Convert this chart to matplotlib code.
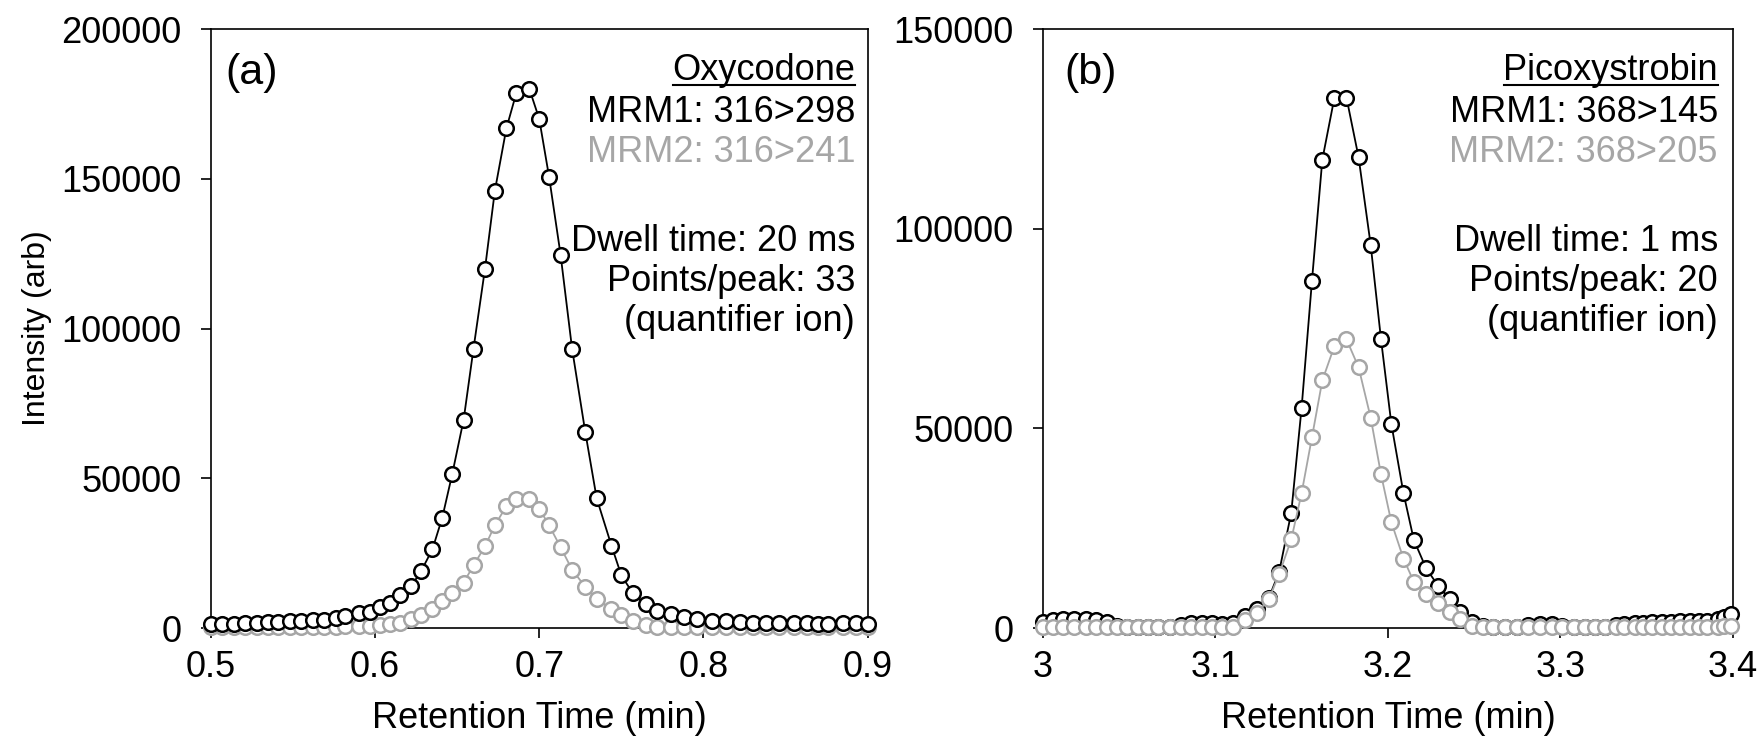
import matplotlib
matplotlib.use("Agg")
import matplotlib.pyplot as plt
from matplotlib.lines import Line2D
from matplotlib.ticker import FuncFormatter, MultipleLocator
from matplotlib.transforms import IdentityTransform

plt.rcParams['font.family'] = ['Liberation Sans', 'DejaVu Sans']

# panel (a) oxycodone
tiempo_a = [0.500, 0.507, 0.514, 0.521, 0.528, 0.535, 0.541, 0.548, 0.555, 0.562,
            0.569, 0.576, 0.582, 0.590, 0.597, 0.603, 0.609, 0.615, 0.622, 0.628,
            0.635, 0.641, 0.647, 0.654, 0.660, 0.667, 0.673, 0.680, 0.686, 0.694,
            0.700, 0.706, 0.713, 0.720, 0.728, 0.735, 0.744, 0.750, 0.757, 0.765,
            0.772, 0.780, 0.788, 0.796, 0.805, 0.814, 0.822, 0.830, 0.838, 0.846,
            0.855, 0.863, 0.870, 0.876, 0.885, 0.893, 0.900]
mrm1_a = [1500, 1500, 1500, 1600, 1700, 1900, 2000, 2200, 2400, 2600,
          2800, 3500, 4000, 4900, 5400, 6900, 8300, 10900, 13900, 18900,
          26300, 36900, 51300, 69600, 93300, 120000, 146000, 166800, 178500, 180000,
          170000, 150700, 124700, 93300, 65600, 43300, 27500, 17600, 11600, 7900,
          5600, 4700, 3600, 2900, 2300, 2300, 2000, 1600, 1600, 1600,
          1600, 1600, 1200, 1200, 1600, 1600, 1300]
mrm2_a = [300, 300, 300, 300, 300, 350, 350, 400, 400, 450,
          450, 500, 550, 600, 700, 900, 1300, 1800, 2900, 4300,
          6500, 8900, 11600, 15200, 20900, 27300, 34300, 40700, 43200, 43200,
          39900, 34300, 27000, 19500, 13800, 9600, 6500, 4300, 2300, 900,
          400, 300, 300, 300, 300, 300, 300, 300, 300, 300,
          300, 300, 300, 300, 300, 300, 300]

# panel (b) picoxystrobin
tiempo_b = [3.000, 3.006, 3.012, 3.018, 3.025, 3.031, 3.037, 3.043, 3.049, 3.055,
            3.061, 3.067, 3.074, 3.080, 3.086, 3.092, 3.098, 3.104, 3.110,
            3.117, 3.124, 3.131, 3.137, 3.144, 3.150, 3.156, 3.162, 3.169, 3.176,
            3.183, 3.190, 3.196, 3.202, 3.209, 3.215, 3.222, 3.229, 3.236, 3.242, 3.249,
            3.255, 3.261, 3.268, 3.275, 3.281, 3.288, 3.295, 3.301, 3.308, 3.314,
            3.320, 3.326, 3.332, 3.337, 3.343, 3.348, 3.353, 3.359, 3.364, 3.369,
            3.375, 3.380, 3.385, 3.391, 3.395, 3.399]
mrm1_b = [1500, 2000, 2200, 2200, 2200, 2000, 1500, 600, 300, 200,
          200, 200, 300, 800, 1200, 1300, 1200, 1000, 1200,
          3000, 4700, 7500, 14100, 28900, 55200, 87000, 117300, 132800, 132800,
          117900, 96000, 72300, 51100, 33800, 22100, 15100, 10600, 7200, 4000, 1500,
          500, 300, 300, 300, 800, 1000, 900, 500, 300, 300,
          300, 300, 700, 1000, 1200, 1300, 1400, 1500, 1600, 1700,
          1800, 1700, 1800, 2200, 2800, 3500]
mrm2_b = [300, 300, 300, 300, 300, 300, 300, 300, 300, 300,
          300, 300, 300, 300, 300, 300, 300, 300, 300,
          2000, 3700, 7200, 13500, 22200, 33800, 47800, 62000, 70600, 72300,
          65300, 52700, 38500, 26500, 17400, 11600, 8500, 6200, 4000, 2200, 500,
          300, 300, 300, 300, 300, 300, 300, 300, 300, 300,
          300, 300, 300, 300, 300, 300, 300, 300, 300, 300,
          300, 300, 300, 300, 400, 600]

gris = '#A6A6A6'
tam = 26

fig = plt.figure(figsize=(17.65, 7.42), dpi=100)
ax_a = fig.add_axes([0.1194, 0.1536, 0.3722, 0.8073])
ax_b = fig.add_axes([0.5908, 0.1536, 0.3911, 0.8073])


def dibujar(ax, t, s1, s2, gris_encima):
    estilo = dict(marker='o', markersize=10.5, markerfacecolor='white',
                  markeredgewidth=1.8, linewidth=1.3, clip_on=False)
    z1, z2 = (3, 4) if gris_encima else (4, 3)
    ax.plot(t, s1, color='black', markeredgecolor='black', zorder=z1, **estilo)
    ax.plot(t, s2, color=gris, markeredgecolor=gris, zorder=z2, **estilo)
    for sp in ax.spines.values():
        sp.set_linewidth(1.2)
    ax.tick_params(direction='out', length=7, width=1.2, labelsize=tam)
    ax.tick_params(axis='x', pad=9)
    ax.tick_params(axis='y', pad=14)
    ax.yaxis.set_major_formatter(FuncFormatter(lambda v, p: f"{v:.0f}"))
    ax.xaxis.set_major_formatter(FuncFormatter(lambda v, p: f"{v:g}"))
    ax.set_xlabel("Retention Time (min)", fontsize=tam, labelpad=11)


dibujar(ax_a, tiempo_a, mrm1_a, mrm2_a, False)
ax_a.set_xlim(0.5, 0.9)
ax_a.set_ylim(0, 200000)
ax_a.xaxis.set_major_locator(MultipleLocator(0.1))
ax_a.yaxis.set_major_locator(MultipleLocator(50000))
ax_a.set_ylabel("Intensity (arb)", fontsize=23, labelpad=7)

dibujar(ax_b, tiempo_b, mrm1_b, mrm2_b, True)
ax_b.set_xlim(3.0, 3.4)
ax_b.set_ylim(0, 150000)
ax_b.xaxis.set_major_locator(MultipleLocator(0.1))
ax_b.yaxis.set_major_locator(MultipleLocator(50000))

paneles = [
    (ax_a, "(a)", 0.022, 0.981, "Oxycodone", "MRM1: 316>298", "MRM2: 316>241",
     "Dwell time: 20 ms", "Points/peak: 33"),
    (ax_b, "(b)", 0.031, 0.978, "Picoxystrobin", "MRM1: 368>145", "MRM2: 368>205",
     "Dwell time: 1 ms", "Points/peak: 20"),
]
renglones = [0.915, 0.845, 0.778, 0.629, 0.563, 0.496]

titulos = []
for ax, letra, xl, xr, nombre, m1, m2, dwell, puntos in paneles:
    ax.text(xl, 0.908, letra, transform=ax.transAxes, fontsize=31,
            ha='left', va='baseline')
    t = ax.text(xr, renglones[0], nombre, transform=ax.transAxes, fontsize=tam,
                ha='right', va='baseline')
    titulos.append((ax, t))
    ax.text(xr, renglones[1], m1, transform=ax.transAxes, fontsize=tam,
            ha='right', va='baseline')
    ax.text(xr, renglones[2], m2, transform=ax.transAxes, fontsize=tam,
            ha='right', va='baseline', color=gris)
    ax.text(xr, renglones[3], dwell, transform=ax.transAxes, fontsize=tam,
            ha='right', va='baseline')
    ax.text(xr, renglones[4], puntos, transform=ax.transAxes, fontsize=tam,
            ha='right', va='baseline')
    ax.text(xr, renglones[5], "(quantifier ion)", transform=ax.transAxes,
            fontsize=tam, ha='right', va='baseline')

# subrayado del nombre del compuesto
fig.canvas.draw()
renderer = fig.canvas.get_renderer()
for ax, t in titulos:
    bb = t.get_window_extent(renderer)
    base = ax.transAxes.transform((0, renglones[0]))[1]
    fig.add_artist(Line2D([bb.x0 + 1, bb.x1], [base - 5, base - 5],
                          transform=IdentityTransform(), color='black', linewidth=1.5))

fig.savefig("out.png", dpi=100)
plt.close("all")
